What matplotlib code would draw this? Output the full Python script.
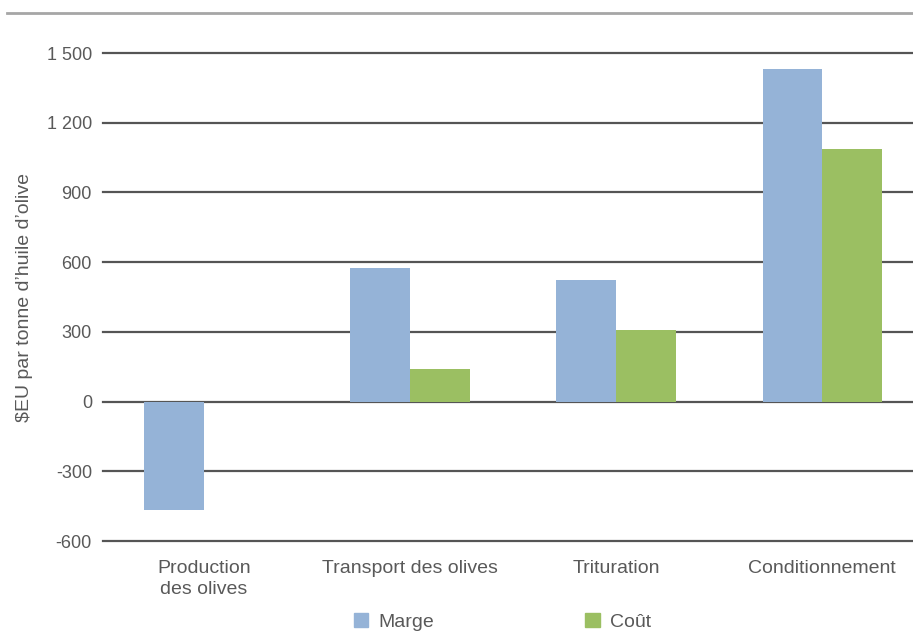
import matplotlib
matplotlib.use("Agg")
import matplotlib.pyplot as plt
import numpy as np
from matplotlib.lines import Line2D
from matplotlib.patches import Patch

categories = ["Production\ndes olives", "Transport des olives", "Trituration", "Conditionnement"]
marge = [-465, 575, 525, 1430]
cout = [0, 140, 310, 1085]
yticks = [-600, -300, 0, 300, 600, 900, 1200, 1500]
ytick_labels = ["-600", "-300", "0", "300", "600", "900", "1 200", "1 500"]

plt.rcParams['font.family'] = ['Liberation Sans', 'DejaVu Sans']
text_color = "#595959"
c_marge = "#95B3D7"
c_cout = "#9BBF62"

fig = plt.figure(figsize=(9.13, 6.37), dpi=100)
ax = fig.add_axes([103/913, 1-541/637, 1-103/913, (541-53)/637])

x = np.arange(len(categories))
w = 0.29
ax.bar(x - w/2, marge, width=w, color=c_marge, zorder=3)
ax.bar(x + w/2, cout, width=w, color=c_cout, zorder=3)

ax.set_ylim(-600, 1500)
ax.set_xlim(-0.49, 3.44)
ax.set_yticks(yticks)
ax.set_yticklabels(ytick_labels)
for y in yticks:
    ax.axhline(y, color="#555555", lw=1.6, zorder=1, clip_on=False)
ax.set_xticks(x)
ax.set_xticklabels(categories, linespacing=1.25)
ax.tick_params(axis='x', length=0, labelsize=14, colors=text_color, pad=14)
ax.tick_params(axis='y', length=0, labelsize=13, colors=text_color, pad=8)
for s in ax.spines.values():
    s.set_visible(False)

ax.set_ylabel("$EU par tonne d\u2019huile d\u2019olive", fontsize=14, color=text_color, labelpad=10)

fig.add_artist(Line2D([7/913, 1.0], [1-13/637, 1-13/637], color="#A6A6A6", lw=2, transform=fig.transFigure))

handles = [Patch(color=c_marge), Patch(color=c_cout)]
fig.legend(handles, ["Marge", "Co\u00fbt"], loc="lower center", bbox_to_anchor=(0.55, -0.018),
           ncol=2, frameon=False, fontsize=14, labelcolor=text_color,
           columnspacing=7.8, handlelength=0.75, handleheight=0.75, handletextpad=0.5)

fig.savefig("out.png", dpi=100)
